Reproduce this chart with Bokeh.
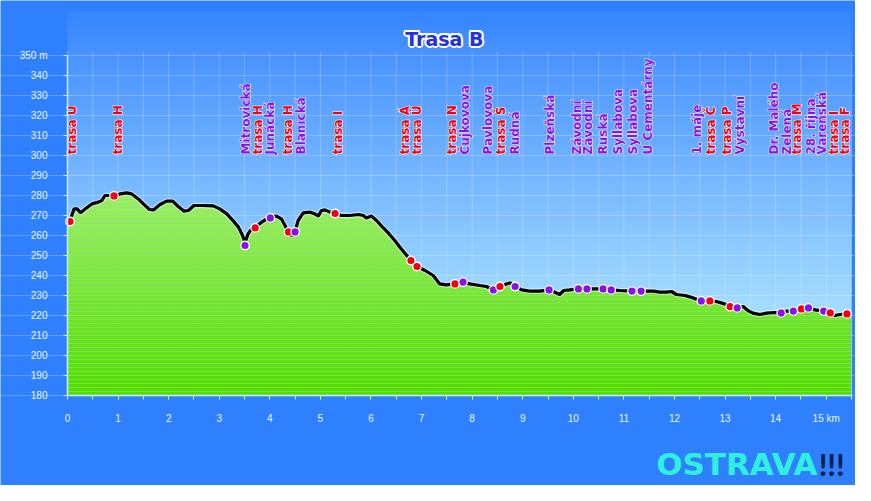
import numpy as np

from bokeh.plotting import figure
from bokeh.models import FixedTicker, Label
from bokeh.core.properties import value
from bokeh.embed import file_html
from bokeh.resources import INLINE

# elevation profile of route B (distance in km, elevation in m)
km = [0.00, 0.05, 0.13, 0.19, 0.26, 0.35, 0.48, 0.61, 0.68, 0.74, 0.84, 0.92, 1.04, 1.17, 1.27,
      1.40, 1.50, 1.62, 1.70, 1.83, 1.96, 2.08, 2.19, 2.30, 2.39, 2.50, 2.68, 2.88, 3.01, 3.15,
      3.28, 3.38, 3.46, 3.51, 3.57, 3.64, 3.71, 3.84, 3.97, 4.01, 4.13, 4.23, 4.30, 4.36, 4.42,
      4.50, 4.56, 4.66, 4.79, 4.89, 4.96, 5.02, 5.09, 5.19, 5.29, 5.42, 5.58, 5.75, 5.85, 5.91,
      6.01, 6.11, 6.21, 6.34, 6.47, 6.60, 6.79, 6.91, 7.07, 7.23, 7.36, 7.49, 7.66, 7.82, 7.95,
      8.15, 8.28, 8.42, 8.55, 8.65, 8.75, 8.85, 8.98, 9.14, 9.34, 9.52, 9.63, 9.73, 9.81, 9.93,
      10.10, 10.27, 10.42, 10.59, 10.75, 10.92, 11.16, 11.34, 11.58, 11.71, 11.84, 11.94, 12.04,
      12.21, 12.37, 12.53, 12.70, 12.83, 12.99, 13.10, 13.24, 13.36, 13.45, 13.55, 13.69, 13.82,
      13.98, 14.11, 14.21, 14.34, 14.51, 14.65, 14.78, 14.94, 15.08, 15.17, 15.27, 15.41, 15.49]
elev = [265.0, 267.5, 273.3, 273.3, 271.3, 273.3, 275.8, 276.7, 277.5, 280.0, 280.0, 279.8, 280.8, 281.3, 280.8,
        278.3, 275.8, 273.0, 272.8, 275.5, 277.2, 277.2, 274.5, 272.2, 272.5, 275.0, 275.0, 274.8, 273.3, 270.8,
        267.2, 264.2, 260.0, 256.5, 260.8, 263.3, 264.0, 266.7, 268.8, 269.3, 269.7, 268.3, 265.0, 262.0, 260.0,
        262.0, 267.5, 271.3, 271.7, 270.8, 269.7, 272.5, 272.8, 271.7, 271.0, 270.0, 270.0, 270.5, 270.0, 268.7,
        269.7, 267.5, 264.7, 261.3, 257.5, 253.3, 247.5, 244.5, 242.5, 240.0, 235.8, 235.3, 235.8, 236.7, 235.8,
        235.0, 234.5, 232.8, 234.5, 235.5, 236.3, 234.5, 232.8, 232.2, 232.2, 232.8, 231.7, 230.5, 232.5, 232.8,
        233.3, 233.3, 233.3, 233.3, 232.8, 232.5, 232.2, 232.2, 232.2, 231.7, 231.7, 232.0, 230.5,
        230.0, 228.8, 227.3, 227.3, 227.0, 225.8, 224.5, 223.8, 224.5, 222.5, 221.2, 220.5, 221.2,
        221.5, 221.3, 222.2, 222.2, 223.3, 223.8, 222.8, 222.2, 221.3, 220.0, 220.5, 220.8, 221.0]

# stops along the route
stop_names = ["trasa U", "trasa H", "Mitrovická", "trasa H", "Junácká", "trasa H", "Blanická", "trasa I",
              "trasa Á", "trasa Ú", "trasa N", "Čujkovova", "Pavlovova", "trasa Š", "Rudná", "Plzeňská",
              "Závodní", "Závodní", "Ruská", "Syllabova", "Syllabova", "U Cementárny", "1. máje", "trasa Č",
              "trasa P", "Výstavní", "Dr. Malého", "Zelená", "trasa M", "28. října", "Varenská", "trasa I",
              "trasa F"]
stop_km = [0.05, 0.92, 3.51, 3.71, 4.01, 4.37, 4.50, 5.29, 6.79, 6.91, 7.66, 7.82, 8.42, 8.55, 8.85, 9.52,
           10.10, 10.27, 10.59, 10.75, 11.16, 11.34, 12.53, 12.70, 13.10, 13.24, 14.11, 14.35, 14.51, 14.65,
           14.95, 15.08, 15.41]
stop_elev = [267.0, 279.8, 255.0, 263.8, 268.8, 261.8, 261.8, 271.0, 247.5, 244.5, 235.8, 236.7, 232.8, 234.5,
             234.5, 232.8, 233.3, 233.3, 233.3, 232.8, 232.2, 232.2, 227.3, 227.3, 224.4, 223.8, 221.3, 222.2,
             223.3, 223.8, 222.2, 221.3, 220.8]
label_km = [0.09, 1.00, 3.52, 3.77, 4.00, 4.36, 4.62, 5.35, 6.67, 6.90, 7.60, 7.86, 8.31, 8.58, 8.85, 9.54,
            10.07, 10.29, 10.59, 10.88, 11.18, 11.48, 12.44, 12.72, 13.03, 13.30, 13.97, 14.22, 14.42, 14.70,
            14.91, 15.15, 15.38]

x_major = list(range(0, 16))
x_minor = [i / 2 for i in range(32)]
y_ticks = list(range(180, 351, 10))

RED = "#f20012"
PURPLE = "#8a10e6"
stop_colors = [RED if n.startswith("trasa") else PURPLE for n in stop_names]

# the frame fills the whole canvas, axes are pinned inside it
p = figure(width=855, height=485, x_range=(-1.3246, 15.579), y_range=(135, 377.5),
           tools="", toolbar_location=None, output_backend="svg",
           min_border_left=0, min_border_right=0, min_border_top=0, min_border_bottom=0,
           background_fill_color="#2f80ff", border_fill_color="#2f80ff")
p.outline_line_color = None

# sky gradient (from 180 m up to the top of the panel)
rows = np.arange(385)
e = 180 + (rows + 0.5) * 0.5
c_top = np.array([52, 133, 255])
c_350 = np.array([74, 148, 255])
c_bot = np.array([196, 246, 255])
t_up = np.clip((e - 350) / 22.5, 0, 1)[:, None]
t_dn = np.clip((350 - e) / 170, 0, 1)[:, None]
rgb = np.where(e[:, None] >= 350, c_350 + (c_top - c_350) * t_up, c_350 + (c_bot - c_350) * t_dn)
img = np.zeros((385, 4), dtype=np.uint32)
view = img.view(dtype=np.uint8).reshape((385, 4, 4))
view[:, :, 0] = rgb[:, 0:1].astype(np.uint8)
view[:, :, 1] = rgb[:, 1:2].astype(np.uint8)
view[:, :, 2] = rgb[:, 2:3].astype(np.uint8)
view[:, :, 3] = 255
p.image_rgba(image=[img], x=0, y=180, dw=15.5, dh=192.5, level="image")

# grid
p.xgrid.grid_line_color = None
p.ygrid.ticker = FixedTicker(ticks=y_ticks)
p.ygrid.bounds = (0, 15.5)
p.ygrid.grid_line_color = "white"
p.ygrid.grid_line_alpha = 0.22
p.segment(x0=x_minor, y0=180, x1=x_minor, y1=352, line_color="white", line_alpha=0.22, line_width=1)

# green area with vertical gradient (bands)
prof = np.array(elev)
g_top = np.array([158, 241, 98])
g_bot = np.array([84, 221, 0])
levels = np.arange(180, 284, 2.0)
for lo, hi in zip(levels[:-1], levels[1:]):
    t = (lo + 1 - 180) / (282 - 180)
    c = g_bot + (g_top - g_bot) * t
    col = "#%02x%02x%02x" % tuple(int(v) for v in c)
    p.varea(x=km, y1=np.minimum(prof, lo), y2=np.minimum(prof, hi), fill_color=col)

# profile line
p.line(km, elev, line_color="white", line_width=5.5, line_alpha=0.5)
p.line(km, elev, line_color="black", line_width=3.2)

# stops
p.scatter(stop_km, stop_elev, size=8.5, fill_color=stop_colors, line_color="white", line_width=1.3)

label_y = [300.5] * len(label_km)
label_style = dict(angle=np.pi / 2, text_align="left", text_baseline="middle",
                   text_font=value("DejaVu Sans"), text_font_style="bold", text_font_size="12px")
p.text(x=label_km, y=label_y, text=stop_names, text_color="white", text_outline_color="white", **label_style)
p.text(x=label_km, y=label_y, text=stop_names, text_color=stop_colors, **label_style)

# axes
for ax in (p.xaxis, p.yaxis):
    ax.axis_line_color = "#cdeeff"
    ax.axis_line_width = 1.5
    ax.major_tick_line_color = "#cdeeff"
    ax.minor_tick_line_color = "#cdeeff"
    ax.major_tick_in = 0
    ax.major_tick_out = 4
    ax.minor_tick_in = 0
    ax.minor_tick_out = 4
    ax.major_label_text_color = "#eaf4ff"
    ax.major_label_text_font = "Liberation Sans"
    ax.major_label_text_font_size = "10px"

p.yaxis.ticker = FixedTicker(ticks=y_ticks)
p.yaxis.bounds = (180, 350)
p.yaxis.major_label_overrides = {350: "350 m"}
p.yaxis.minor_tick_line_color = None
p.yaxis.major_label_standoff = 16
p.yaxis.fixed_location = 0

p.xaxis.ticker = FixedTicker(ticks=x_major, minor_ticks=x_minor)
p.xaxis.bounds = (0, 15.5)
p.xaxis.major_label_overrides = {15: "15 km"}
p.xaxis.major_label_standoff = 13
p.xaxis.fixed_location = 180

# title, white outline made of shifted copies
title_style = dict(x=7.45, y=358.5, text="Trasa B", text_align="center", text_baseline="middle",
                   text_font="DejaVu Sans", text_font_style="bold", text_font_size="19px")
for dx, dy in [(-2, 0), (2, 0), (0, -2), (0, 2), (-1.5, -1.5), (1.5, -1.5), (-1.5, 1.5), (1.5, 1.5)]:
    p.add_layout(Label(text_color="white", x_offset=dx, y_offset=dy, **title_style))
p.add_layout(Label(text_color="#2233dd", **title_style))

# logo
p.add_layout(Label(x=14.83, y=146, text="OSTRAVA", text_align="right", text_baseline="middle",
                   text_font="DejaVu Sans", text_font_style="bold", text_font_size="31px",
                   text_color="#2ef0dc"))
p.add_layout(Label(x=14.85, y=146, text="!!!", text_align="left", text_baseline="middle",
                   text_font="Lato", text_font_style="bold", text_font_size="31px",
                   text_color="#0a1f4e"))

open("out.html", "w").write(file_html(p, INLINE))
